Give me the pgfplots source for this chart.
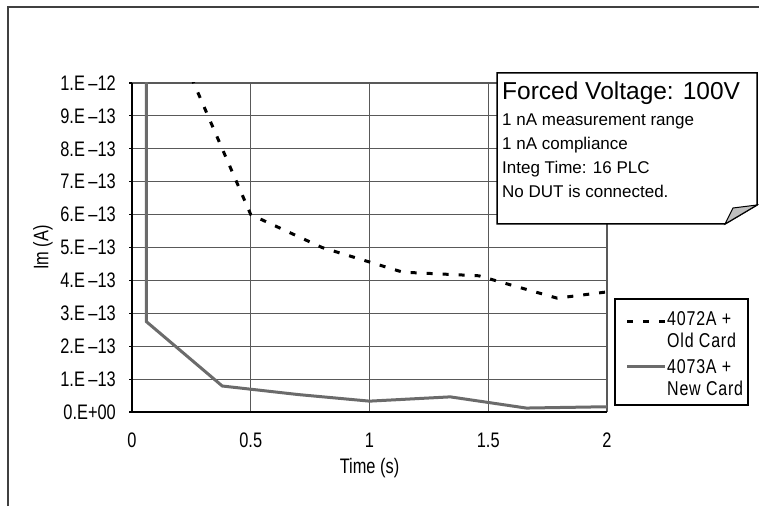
\documentclass[border=0pt]{standalone}
\usepackage{fontspec}
\setmainfont{Liberation Sans}
\newfontfamily\cad[FakeStretch=0.78]{Liberation Sans}
\newfontfamily\cadl[FakeStretch=0.8, LetterSpace=4]{Liberation Sans}
\usepackage{pgfplots}
\pgfplotsset{compat=1.18}

\begin{document}
\begin{tikzpicture}[x=1pt,y=1pt]
\useasboundingbox (0,0) rectangle (759,506);
% page frame
\draw[black!75, line width=2pt] (8,0) -- (8,499) -- (759,499);

\begin{axis}[
  at={(132pt,94pt)}, anchor=south west,
  scale only axis, width=475pt, height=329pt,
  xmin=0, xmax=2, ymin=0, ymax=1e-12,
  axis lines*=left, axis line style={-, black, line width=1.6pt},
  grid=major, grid style={black!65, line width=1.1pt},
  xtick={0,0.5,1,1.5,2}, xticklabels={0,0.5,1,1.5,2},
  ytick={0,1e-13,2e-13,3e-13,4e-13,5e-13,6e-13,7e-13,8e-13,9e-13,1e-12},
  yticklabels={0.E+00,1.E\,–13,2.E\,–13,3.E\,–13,4.E\,–13,5.E\,–13,6.E\,–13,7.E\,–13,8.E\,–13,9.E\,–13,1.E\,–12},
  scaled y ticks=false,
  tick align=outside, major tick length=3pt,
  xtick style={draw=none}, ytick style={black, line width=1.2pt},
  tick label style={font=\cad\fontsize{21}{21}\selectfont, inner sep=0pt},
  yticklabel style={anchor=east, xshift=-13pt},
  xticklabel style={anchor=north, yshift=-18pt},
  xlabel={Time (s)}, ylabel={Im (A)},
  label style={font=\cad\fontsize{21}{21}\selectfont},
  xlabel style={at={(axis description cs:0.5,-0.1702)}, anchor=center},
  ylabel style={at={(axis description cs:-0.1874,0.5)}, anchor=center},
]

\addplot[black!58, line width=3pt] coordinates {
  (0.06,1.3e-12) (0.06,2.75e-13) (0.38,7.9e-14) (0.70,5.3e-14)
  (1.00,3.3e-14) (1.34,4.6e-14) (1.66,1.2e-14) (2.00,1.6e-14)};

\addplot[black, line width=3pt, dash pattern=on 6pt off 10pt] coordinates {
  (0.17,1.15e-12) (0.50,6.0e-13) (0.80,5.0e-13) (1.14,4.25e-13)
  (1.46,4.14e-13) (1.79,3.46e-13) (2.00,3.65e-13)};

\end{axis}

% note with folded corner
\draw[black, line width=1.5pt, fill=white]
  (497,433) -- (757,433) -- (757,301) -- (725,282) -- (497,282) -- cycle;
\draw[black, line width=1pt, fill=black!25] (757,301) -- (733,298) -- (725,282) -- cycle;
\node[anchor=base west, inner sep=0pt, font=\fontsize{24.5}{24.5}\selectfont] at (502,406.5) {Forced Voltage: 100V};
\begin{scope}[every node/.style={anchor=base west, inner sep=0pt, font=\fontsize{17}{17}\selectfont}]
\node at (502,380) {1 nA measurement range};
\node at (502,356) {1 nA compliance};
\node at (502,332) {Integ Time: 16 PLC};
\node at (502,308) {No DUT is connected.};
\end{scope}

% legend
\draw[black, line width=1.2pt, fill=white] (615,207) rectangle (748,101);
\draw[black, line width=3pt, dash pattern=on 6pt off 10pt] (627,184) -- (665,184);
\draw[black!58, line width=3pt] (627,140) -- (665,140);
\begin{scope}[every node/.style={anchor=base west, inner sep=0pt, font=\cadl\fontsize{20}{20}\selectfont}]
\node at (667,181) {4072A +};
\node at (667,159) {Old Card};
\node at (667,133) {4073A +};
\node at (667,111) {New Card};
\end{scope}
\end{tikzpicture}
\end{document}
